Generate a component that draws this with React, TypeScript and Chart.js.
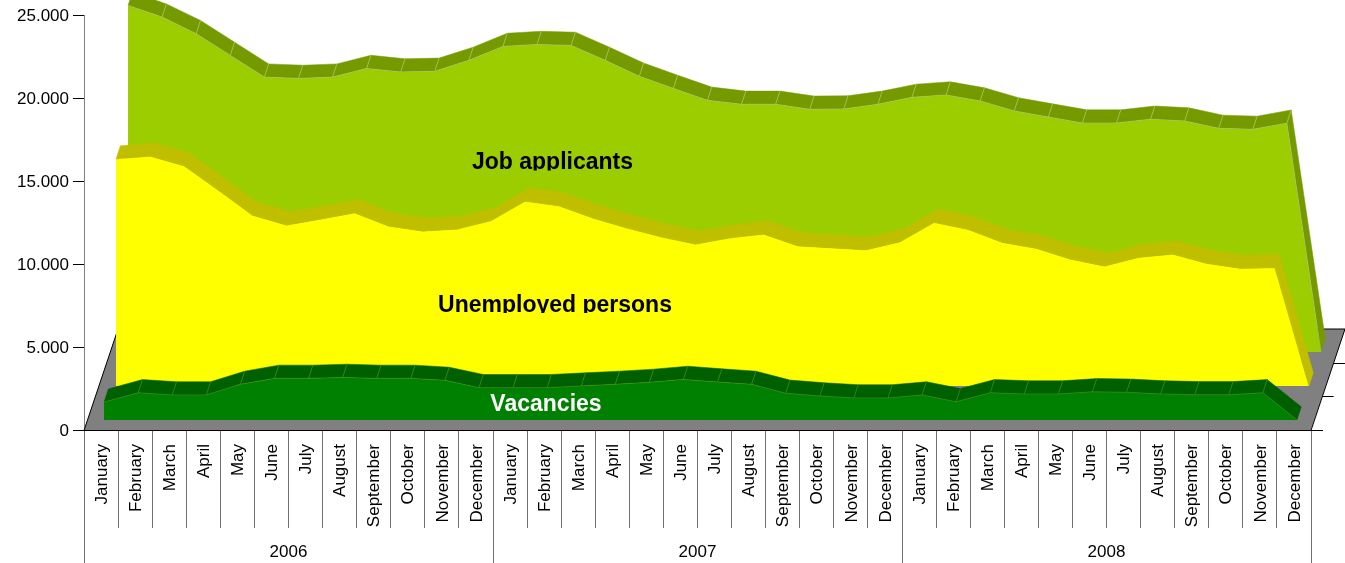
import React, { useEffect, useRef } from "react";
import { Chart, registerables } from "chart.js";

Chart.register(...registerables);

const MONTHS = ["January", "February", "March", "April", "May", "June", "July", "August", "September", "October", "November", "December"];
const YEARS = ["2006", "2007", "2008"];
const CATEGORIES = [...MONTHS, ...MONTHS, ...MONTHS];

const VACANCIES = [1080, 1640, 1510, 1510, 2150, 2510, 2510, 2570, 2510, 2510, 2390, 1950, 1950, 1950, 2050, 2150, 2270, 2450, 2290, 2150, 1610, 1450, 1330, 1330, 1510, 1100, 1640, 1570, 1570, 1700, 1670, 1570, 1520, 1520, 1640, 0];
const UNEMPLOYED = [13690, 13860, 13270, 11810, 10300, 9700, 10060, 10440, 9640, 9340, 9460, 9960, 11140, 10860, 10120, 9520, 8980, 8550, 8920, 9160, 8450, 8330, 8210, 8690, 9860, 9440, 8660, 8300, 7650, 7230, 7750, 7950, 7390, 7090, 7130, 0];
const APPLICANTS = [20900, 20200, 19200, 17890, 16580, 16500, 16580, 17100, 16890, 16930, 17590, 18430, 18550, 18490, 17590, 16630, 15900, 15180, 14940, 14940, 14640, 14660, 14940, 15360, 15500, 15140, 14540, 14170, 13810, 13810, 14040, 13930, 13490, 13430, 13800, 0];

const W = 1345;
const H = 563;
const LEFT = 84;
const RIGHT_PAD = 34;
const TOP = 15.5;
const BOTTOM_AXIS = 133;
const Y_MAX = 25000;
const PX_PER_UNIT = (H - BOTTOM_AXIS - TOP) / Y_MAX;
const X_UNIT = (W - LEFT - RIGHT_PAD) / CATEGORIES.length;
const FLOOR_DX = 34;
const FLOOR_DY = 101;
const WALL_DX = 4.3;
const WALL_DY = 13.2;
const FONT = "'Liberation Sans', Arial, sans-serif";
const AXIS_GRAY = "#707070";

const SERIES = [
  { key: "G", label: "Vacancies", values: VACANCIES, dx: 3, dy: 10, color: "#008000", wall: "#006000", edge: "rgba(120,190,60,0.55)" },
  { key: "Y", label: "Unemployed persons", values: UNEMPLOYED, dx: 15, dy: 44, color: "#FFFF00", wall: "#BFBF00", edge: "" },
  { key: "L", label: "Job applicants", values: APPLICANTS, dx: 27, dy: 78, color: "#9BCD00", wall: "#749A00", edge: "rgba(205,225,150,0.75)" },
];

const SERIES_LABELS = [
  { text: "Job applicants", x: 552.5, y: 169, clipY: 170.5, color: "#000000" },
  { text: "Unemployed persons", x: 555, y: 312, clipY: 313, color: "#000000" },
  { text: "Vacancies", x: 546, y: 411, clipY: 420, color: "#FFFFFF" },
];

const scenePlugin = {
  id: "scene",
  beforeDatasetsDraw(chart: any) {
    const { ctx, chartArea: a } = chart;
    ctx.save();
    ctx.beginPath();
    ctx.moveTo(a.left, a.bottom);
    ctx.lineTo(a.right, a.bottom);
    ctx.lineTo(a.right + FLOOR_DX, a.bottom - FLOOR_DY);
    ctx.lineTo(a.left + FLOOR_DX, a.bottom - FLOOR_DY);
    ctx.closePath();
    ctx.fillStyle = "#808080";
    ctx.fill();
    ctx.strokeStyle = AXIS_GRAY;
    ctx.lineWidth = 1;
    ctx.beginPath();
    ctx.moveTo(a.left + 0.5, a.bottom);
    ctx.lineTo(a.left + 0.5, H);
    ctx.stroke();
    ctx.strokeStyle = "#000000";
    ctx.beginPath();
    ctx.moveTo(a.left, a.bottom + 0.5);
    ctx.lineTo(a.left + FLOOR_DX, a.bottom - FLOOR_DY);
    ctx.lineTo(a.right + FLOOR_DX, a.bottom - FLOOR_DY);
    ctx.moveTo(a.right + FLOOR_DX, a.bottom - FLOOR_DY);
    ctx.lineTo(a.right, a.bottom + 0.5);
    ctx.stroke();
    ctx.beginPath();
    ctx.moveTo(a.left - 1, a.bottom + 0.5);
    ctx.lineTo(a.right + 12, a.bottom + 0.5);
    for (let k = 1; k <= 2; k++) {
      const y = Math.round(a.bottom - (FLOOR_DY * k) / 3) + 0.5;
      const x = a.right + (FLOOR_DX * k) / 3;
      ctx.moveTo(x, y);
      ctx.lineTo(x + 11.3, y);
    }
    ctx.stroke();
    ctx.restore();
    chart.$realArea = a;
    chart.chartArea = { ...a, left: 0, top: -20, right: W, bottom: H, width: W, height: H + 20 };
  },
  beforeDatasetDraw(chart: any, args: any) {
    const s = SERIES[args.index];
    const pts = chart.getDatasetMeta(args.index).data;
    const { ctx } = chart;
    ctx.save();
    for (let i = 0; i < pts.length - 1; i++) {
      const a = pts[i];
      const b = pts[i + 1];
      ctx.beginPath();
      ctx.moveTo(a.x, a.y);
      ctx.lineTo(a.x + WALL_DX, a.y - WALL_DY);
      ctx.lineTo(b.x + WALL_DX, b.y - WALL_DY);
      ctx.lineTo(b.x, b.y);
      ctx.closePath();
      ctx.fillStyle = s.wall;
      ctx.fill();
      ctx.strokeStyle = s.wall;
      ctx.lineWidth = 0.5;
      ctx.stroke();
    }
    if (s.edge) {
      ctx.strokeStyle = s.edge;
      ctx.lineWidth = 0.6;
      ctx.beginPath();
      pts.forEach((p: any, i: number) => {
        if (i > 0 && i < pts.length - 1) {
          ctx.moveTo(p.x, p.y);
          ctx.lineTo(p.x + WALL_DX, p.y - WALL_DY);
        }
      });
      ctx.moveTo(pts[0].x, pts[0].y);
      pts.forEach((p: any) => ctx.lineTo(p.x, p.y));
      ctx.stroke();
    }
    ctx.restore();
  },
  afterDatasetsDraw(chart: any) {
    chart.chartArea = chart.$realArea;
    const { ctx } = chart;
    ctx.save();
    ctx.font = `bold 23px ${FONT}`;
    ctx.textAlign = "center";
    ctx.textBaseline = "alphabetic";
    SERIES_LABELS.forEach((l) => {
      ctx.save();
      ctx.beginPath();
      ctx.rect(0, 0, W, l.clipY);
      ctx.clip();
      ctx.fillStyle = l.color;
      ctx.fillText(l.text, l.x, l.y);
      ctx.restore();
    });
    ctx.restore();
  },
};

const formatTick = (v: any) => String(v).replace(/\B(?=(\d{3})+$)/g, ".");
const skipFirstTick = (c: any) => (c.index === 0 ? "rgba(0,0,0,0)" : AXIS_GRAY);

export default function App() {
  const ref = useRef<HTMLCanvasElement | null>(null);
  useEffect(() => {
    document.body.style.margin = "0";
    const scales: any = {
      x: {
        type: "category",
        labels: CATEGORIES,
        position: "bottom",
        weight: 1,
        offset: true,
        border: { display: false },
        grid: { offset: true, drawOnChartArea: false, drawTicks: true, tickLength: 98, tickColor: skipFirstTick, lineWidth: 1 },
        ticks: { autoSkip: false, minRotation: 90, maxRotation: 90, padding: -84, labelOffset: 1, color: "#000000", font: { family: FONT, size: 17 } },
        afterFit: (s: any) => { s.height = 98; },
      },
      xYears: {
        type: "category",
        labels: YEARS,
        position: "bottom",
        weight: 2,
        offset: true,
        border: { display: false },
        grid: { offset: true, drawOnChartArea: false, drawTicks: true, tickLength: 35, tickColor: skipFirstTick, lineWidth: 1 },
        ticks: { autoSkip: false, maxRotation: 0, padding: -21, color: "#000000", font: { family: FONT, size: 17 } },
        afterFit: (s: any) => { s.height = 35; },
      },
      y: {
        type: "linear",
        position: "left",
        min: 0,
        max: Y_MAX,
        border: { display: true, color: "#808080", width: 1 },
        grid: { drawOnChartArea: false, drawTicks: true, tickLength: 11, tickColor: "#000000" },
        ticks: { stepSize: 5000, padding: 4, labelOffset: 1, color: "#000000", font: { family: FONT, size: 17 }, callback: formatTick },
        afterFit: (s: any) => { s.width = LEFT; },
      },
    };
    SERIES.forEach((s) => {
      scales["x" + s.key] = {
        type: "linear",
        display: false,
        min: -0.5 - s.dx / X_UNIT,
        max: CATEGORIES.length - 0.5 - s.dx / X_UNIT,
      };
      scales["y" + s.key] = {
        type: "linear",
        display: false,
        min: -s.dy / PX_PER_UNIT,
        max: Y_MAX - s.dy / PX_PER_UNIT,
      };
    });
    const chart = new Chart(ref.current as HTMLCanvasElement, {
      type: "line",
      data: {
        datasets: SERIES.map((s) => ({
          label: s.label,
          data: s.values.map((v, i) => ({ x: i, y: v })),
          xAxisID: "x" + s.key,
          yAxisID: "y" + s.key,
          backgroundColor: s.color,
          borderColor: s.color,
          borderWidth: 0,
          pointRadius: 0,
          tension: 0,
          fill: "origin",
          clip: false,
        })),
      },
      options: {
        animation: false,
        responsive: false,
        devicePixelRatio: 1,
        layout: { autoPadding: false, padding: { top: TOP, right: RIGHT_PAD, left: 0, bottom: 0 } },
        plugins: { legend: { display: false }, tooltip: { enabled: false }, title: { display: false } },
        scales,
      } as any,
      plugins: [scenePlugin as any],
    });
    return () => chart.destroy();
  }, []);
  return <canvas ref={ref} width={W} height={H} style={{ display: "block" }} />;
}
